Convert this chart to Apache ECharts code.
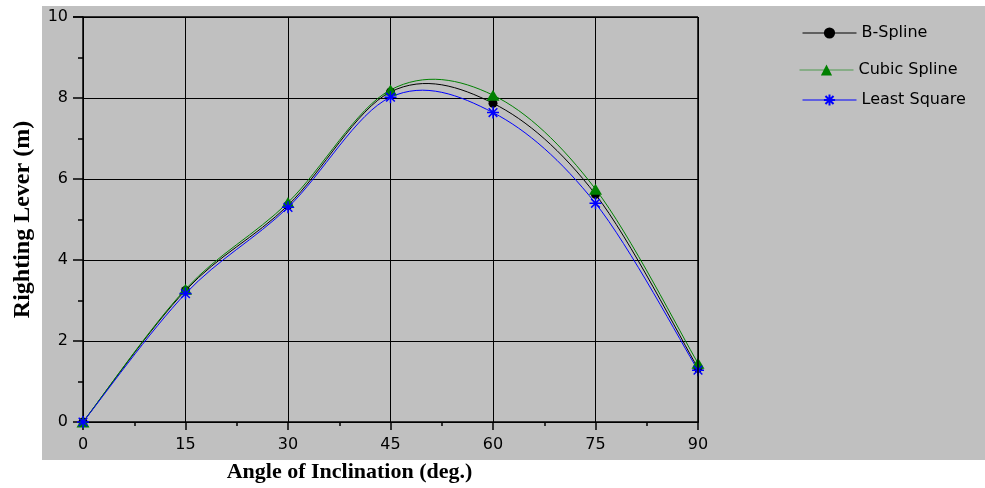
<!DOCTYPE html>
<html>
<head>
<meta charset="utf-8">
<script src="https://cdn.jsdelivr.net/npm/echarts@6/dist/echarts.min.js"></script>
<style>
  html, body { margin: 0; padding: 0; background: #ffffff; }
  #chart { width: 985px; height: 488px; }
</style>
</head>
<body>
<div id="chart"></div>
<script>
// Heel angles (deg.) and righting lever (m) for each fitting method
const angles = [0, 15, 30, 45, 60, 75, 90];
const bSpline = [0, 3.25, 5.35, 8.15, 7.87, 5.62, 1.33];
const cubicSpline = [0, 3.28, 5.42, 8.20, 8.07, 5.75, 1.45];
const leastSquare = [0, 3.17, 5.30, 8.02, 7.64, 5.40, 1.28];

const xTicks = { min: 0, max: 90, step: 15 };
const yTicks = { min: 0, max: 10, step: 2 };

const pairs = (ys) => angles.map((a, i) => [a, ys[i]]);

const asterisk = 'path://M0,-5L0,5M-5,0L5,0M-3.6,-3.6L3.6,3.6M-3.6,3.6L3.6,-3.6';

const sansFont = 'DejaVu Sans, Verdana, sans-serif';
const serifFont = 'Liberation Serif, Times New Roman, serif';

// Smooth curve through the measured points (Catmull-Rom Bezier segments in pixel space)
function splineSeries(ys, color, z) {
  return {
    type: 'custom',
    silent: true,
    z: z,
    data: [0],
    clip: true,
    renderItem: function (params, api) {
      const pts = angles.map((a, i) => api.coord([a, ys[i]]));
      const n = pts.length;
      let d = 'M' + pts[0][0] + ' ' + pts[0][1];
      for (let i = 0; i < n - 1; i++) {
        const p0 = pts[Math.max(i - 1, 0)];
        const p1 = pts[i];
        const p2 = pts[i + 1];
        const p3 = pts[Math.min(i + 2, n - 1)];
        const c1x = p1[0] + (p2[0] - p0[0]) / 6;
        const c1y = p1[1] + (p2[1] - p0[1]) / 6;
        const c2x = p2[0] - (p3[0] - p1[0]) / 6;
        const c2y = p2[1] - (p3[1] - p1[1]) / 6;
        d += ' C' + c1x + ' ' + c1y + ' ' + c2x + ' ' + c2y + ' ' + p2[0] + ' ' + p2[1];
      }
      return {
        type: 'path',
        shape: { pathData: d },
        style: { fill: 'none', stroke: color, lineWidth: 1 }
      };
    }
  };
}

const chart = echarts.init(document.getElementById('chart'), null, { renderer: 'canvas' });

const legendBase = {
  orient: 'vertical',
  left: 797,
  itemWidth: 54,
  itemHeight: 14,
  itemGap: 0,
  textStyle: { fontFamily: sansFont, fontSize: 16, color: '#000' },
  inactiveColor: '#000'
};

chart.setOption({
  animation: false,
  backgroundColor: '#ffffff',
  graphic: [{
    type: 'rect',
    z: -10,
    silent: true,
    shape: { x: 42, y: 6, width: 943, height: 454 },
    style: { fill: '#c0c0c0' }
  }, {
    type: 'line',
    z: 10,
    silent: true,
    shape: { x1: 73, y1: 17, x2: 698, y2: 17 },
    style: { stroke: '#000', lineWidth: 1.5 }
  }, {
    type: 'line',
    z: 10,
    silent: true,
    shape: { x1: 698, y1: 17, x2: 698, y2: 423 },
    style: { stroke: '#000', lineWidth: 1.5 }
  }],
  legend: [
    Object.assign({}, legendBase, { top: 20, data: [{ name: 'B-Spline', lineStyle: { color: '#000000', opacity: 1, width: 1 } }] }),
    Object.assign({}, legendBase, { top: 57, left: 794, data: [{ name: 'Cubic Spline', lineStyle: { color: '#4f9a4f', opacity: 1, width: 1 } }] }),
    Object.assign({}, legendBase, { top: 87, data: [{ name: 'Least Square', lineStyle: { color: '#0000ff', opacity: 1, width: 1 } }] })
  ],
  grid: { left: 83, right: 287, top: 17, bottom: 65, containLabel: false },
  xAxis: {
    type: 'value',
    min: xTicks.min, max: xTicks.max, interval: xTicks.step,
    name: 'Angle of Inclination (deg.)',
    nameLocation: 'middle',
    nameGap: 39,
    nameTextStyle: { fontFamily: serifFont, fontWeight: 'bold', fontSize: 22, color: '#000', padding: [0, 82, 0, 0] },
    axisLine: { lineStyle: { color: '#000', width: 1.5 } },
    axisTick: { show: true, inside: false, length: 8, lineStyle: { color: '#000', width: 1.5 } },
    minorTick: { show: true, splitNumber: 2, length: 4, lineStyle: { color: '#000', width: 1.5 } },
    axisLabel: { margin: 15, fontFamily: sansFont, fontSize: 16, color: '#000' },
    splitLine: { show: true, lineStyle: { color: '#000', width: 1 } }
  },
  yAxis: {
    type: 'value',
    min: yTicks.min, max: yTicks.max, interval: yTicks.step,
    name: 'Righting Lever (m)',
    nameLocation: 'middle',
    nameGap: 48,
    nameTextStyle: { fontFamily: serifFont, fontWeight: 'bold', fontSize: 24, color: '#000' },
    axisLine: { show: true, lineStyle: { color: '#000', width: 1.5 } },
    axisTick: { show: true, inside: false, length: 10, lineStyle: { color: '#000', width: 1.5 } },
    minorTick: { show: true, splitNumber: 2, length: 5, lineStyle: { color: '#000', width: 1.5 } },
    axisLabel: { margin: 15, fontFamily: sansFont, fontSize: 16, color: '#000' },
    splitLine: { show: true, lineStyle: { color: '#000', width: 1 } }
  },
  series: [
    splineSeries(bSpline, '#000000', 2),
    splineSeries(cubicSpline, '#008000', 2),
    splineSeries(leastSquare, '#0000ff', 2),
  {
    name: 'B-Spline',
    type: 'line',
    data: pairs(bSpline),
    symbol: 'circle',
    symbolSize: 9,
    showAllSymbol: true,
    lineStyle: { color: '#000000', width: 1, opacity: 0 },
    itemStyle: { color: '#000000' },
    z: 3
  }, {
    name: 'Cubic Spline',
    type: 'line',
    data: pairs(cubicSpline),
    symbol: 'triangle',
    symbolSize: [13, 11],
    showAllSymbol: true,
    lineStyle: { color: '#008000', width: 1, opacity: 0 },
    itemStyle: { color: '#008000' },
    z: 4
  }, {
    name: 'Least Square',
    type: 'line',
    data: pairs(leastSquare),
    symbol: asterisk,
    symbolSize: 12,
    showAllSymbol: true,
    lineStyle: { color: '#0000ff', width: 1, opacity: 0 },
    itemStyle: { color: '#0000ff', borderColor: '#0000ff', borderWidth: 1.5 },
    z: 5
  }]
});
</script>
</body>
</html>
